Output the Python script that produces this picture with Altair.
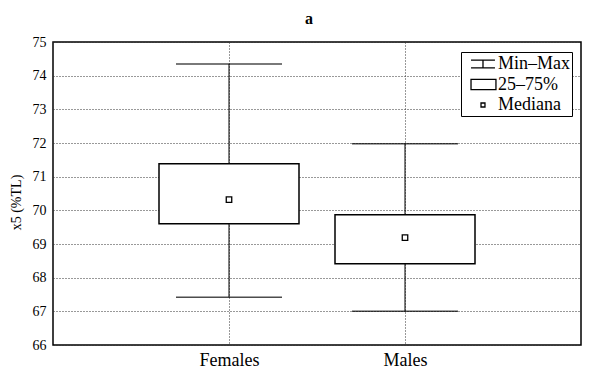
import altair as alt
import pandas as pd

groups = ["Females", "Males"]
mins = [67.42, 67.0]
q1 = [69.6, 68.41]
medians = [70.32, 69.19]
q3 = [71.38, 69.87]
maxs = [74.35, 71.98]

legend_items = ["Min\u2013Max", "25\u201375%", "Mediana"]
legend_paths = [
    "M-0.22,-0.44H2.44M1.11,-0.44V0.44M-0.22,0.44H2.44",
    "M-0.22,-0.56H2.55V0.56H-0.22Z",
    "M0.89,-0.22H1.33V0.22H0.89Z",
]

df = pd.DataFrame({"group": groups, "min": mins, "q1": q1, "median": medians,
                   "q3": q3, "max": maxs})
leg = pd.DataFrame({"item": legend_items})

FONT = "Liberation Serif"

x = alt.X("group:N", sort=groups,
          scale=alt.Scale(type="point", padding=1),
          axis=alt.Axis(title=None, labelAngle=0, labelFontSize=18, labelFont=FONT,
                        labelColor="black", ticks=False, domain=False, labelPadding=6,
                        grid=True, gridDash=[1, 2], gridColor="#333", gridWidth=1))
yscale = alt.Scale(domain=[66, 75], nice=False, zero=False)
yaxis = alt.Axis(title="x5 (%TL)", titleFont=FONT, titleFontSize=14, titleFontWeight="normal",
                 titleColor="black", titlePadding=9, titleY=160,
                 labelFont=FONT, labelFontSize=14, labelColor="black", ticks=False,
                 domain=False, labelPadding=7, values=list(range(66, 76)),
                 labelOverlap=False,
                 grid=True, gridDash=[1, 2], gridColor="#333", gridWidth=1)


def Y(field):
    return alt.Y(field, scale=yscale, axis=yaxis)


base = alt.Chart(df)
whisker = base.mark_rule(color="black", strokeWidth=1).encode(
    x=x, y=Y("min:Q"), y2="max:Q")
cap_min = base.mark_tick(color="black", size=106, thickness=1.5).encode(x=x, y=Y("min:Q"))
cap_max = base.mark_tick(color="black", size=106, thickness=1.5).encode(x=x, y=Y("max:Q"))
box = base.mark_bar(size=140, fill="white", stroke="black", strokeWidth=1.5).encode(
    x=x, y=Y("q1:Q"), y2="q3:Q")
med = base.mark_point(shape="square", size=30, filled=False, color="black",
                      strokeWidth=1.3, opacity=1).encode(x=x, y=Y("median:Q"))

legend_layer = alt.Chart(leg).mark_point(opacity=0, size=324).encode(
    shape=alt.Shape("item:N", sort=legend_items,
                    scale=alt.Scale(domain=legend_items, range=legend_paths),
                    legend=alt.Legend(title=None, orient="none", legendX=408, legendY=10,
                                      labelFont=FONT, labelFontSize=18, labelColor="black",
                                      symbolSize=324, symbolStrokeColor="black",
                                      symbolStrokeWidth=1.3, symbolFillColor="white",
                                      symbolOpacity=1, strokeColor="black", fillColor="white",
                                      padding=2, rowPadding=1.5, labelOffset=15,
                                      cornerRadius=0))
)

chart = alt.layer(whisker, cap_min, cap_max, box, med, legend_layer).properties(
    width=528, height=303,
    title=alt.TitleParams("a", font=FONT, fontSize=16, fontWeight="bold", color="black",
                          offset=8, dx=-8),
    autosize=alt.AutoSizeParams(type="none"),
    padding={"left": 45, "top": 34, "right": 11, "bottom": 25},
).configure(
    background="white",
    font=FONT,
    view=alt.ViewConfig(stroke="black", strokeWidth=1.5),
).configure_axis(labelFont=FONT, titleFont=FONT).configure_legend(labelFont=FONT)

chart.save("out.html", embed_options={"renderer": "svg", "actions": False})
